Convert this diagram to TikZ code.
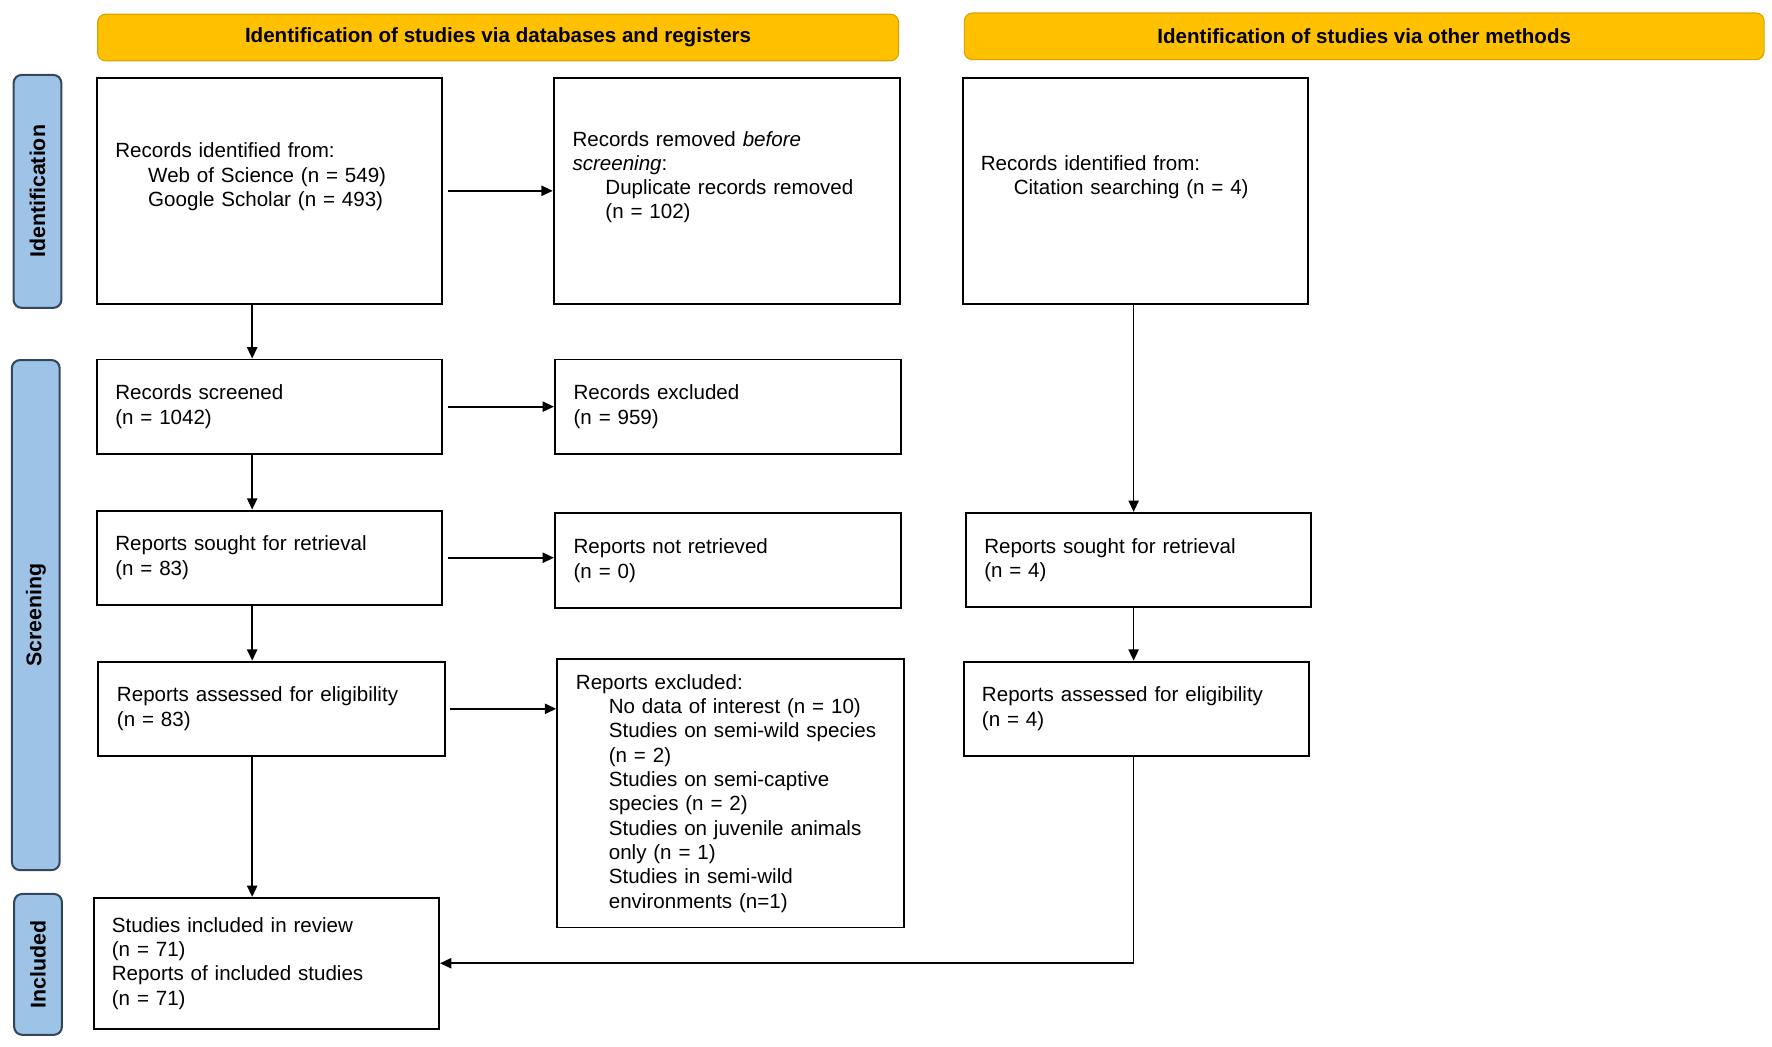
\documentclass[tikz,border=0pt]{standalone}
\usepackage{fontspec}
\setmainfont{Liberation Sans}
\usetikzlibrary{arrows.meta}

\definecolor{bannerfill}{HTML}{FFC000}
\definecolor{bannerline}{HTML}{D9A400}
\definecolor{stagefill}{HTML}{9DC3E6}
\definecolor{stageline}{HTML}{33465C}

\newcommand\flowfont{\fontsize{18.1}{21.4}\selectfont}
\newcommand\ind{\hspace*{29pt}}

\tikzset{
  box/.style={draw, line width=1.7pt, minimum width=304pt, minimum height=83pt,
              inner xsep=15pt, text width=272pt, align=left, font=\flowfont},
  banner/.style={draw=bannerline, fill=bannerfill, rounded corners=7pt, line width=1pt,
                 minimum height=41pt, font=\bfseries\flowfont},
  stage/.style={draw=stageline, fill=stagefill, line width=1.8pt, rounded corners=7pt,
                minimum height=42pt, rotate=90, font=\bfseries\fontsize{18.8}{21}\selectfont},
  flow/.style={-{Triangle[length=10pt,width=9pt]}, line width=1.5pt},
}

\begin{document}
\begin{tikzpicture}[x=1pt, y=-1pt]
\useasboundingbox (0,0) rectangle (1560,921);
% headings
\node[banner, minimum width=705pt] (bandb) at (438.5,33) {Identification of studies via databases and registers};
\node[banner, minimum width=704pt] (banoth) at (1201,32) {Identification of studies via other methods};
% stages
\node[stage, minimum width=205pt] (stid)  at (33,168.5) {Identification};
\node[stage, minimum width=449pt] (stscr) at (31.5,541.5) {Screening};
\node[stage, minimum width=124pt] (stinc) at (33.5,849) {Included};
% databases column
\node[box, minimum height=199pt, text depth=71pt] (idrec) at (237.5,168)
  {Records identified from:\\ \ind Web of Science (n = 549)\\ \ind Google Scholar (n = 493)};
\node[box, minimum width=305pt, minimum height=199pt, text depth=92pt] (removed) at (640,168)
  {Records removed \textit{before}\\ \textit{screening}:\\ \ind Duplicate records removed\\ \ind (n = 102)};
\node[box] (screened) at (237.5,358) {Records screened\\ (n = 1042)};
\node[box, minimum width=305pt] (excl) at (641,358) {Records excluded\\ (n = 959)};
\node[box] (sought) at (237.5,491) {Reports sought for retrieval\\ (n = 83)};
\node[box, minimum width=305pt] (notret) at (641,493.5) {Reports not retrieved\\ (n = 0)};
\node[box, minimum width=305pt] (assessed) at (239,624) {Reports assessed for eligibility\\ (n = 83)};
\node[box, minimum width=305pt, minimum height=236pt] (repexcl) at (643,698.5)
  {Reports excluded:\\ \ind No data of interest (n = 10)\\ \ind Studies on semi-wild species\\ \ind (n = 2)\\
   \ind Studies on semi-captive\\ \ind species (n = 2)\\ \ind Studies on juvenile animals\\ \ind only (n = 1)\\
   \ind Studies in semi-wild\\ \ind environments (n=1)};
\node[box, minimum height=115pt] (included) at (234.5,848)
  {Studies included in review\\ (n = 71)\\ Reports of included studies\\ (n = 71)};
% other methods column
\node[box, minimum height=199pt, text depth=49pt] (citrec) at (999.5,168)
  {Records identified from:\\ \ind Citation searching (n = 4)};
\node[box] (osought) at (1002.5,493) {Reports sought for retrieval\\ (n = 4)};
\node[box] (oassessed) at (1000.5,624) {Reports assessed for eligibility\\ (n = 4)};
% arrows
\coordinate (col) at (222,0);
\coordinate (ocol) at (998,0);
\draw[flow, shorten <=4pt] (idrec.east) -- (idrec.east -| removed.west);
\draw[flow, shorten <=4pt] (screened.east) -- (screened.east -| excl.west);
\draw[flow, shorten <=4pt] (sought.east) -- (sought.east -| notret.west);
\draw[flow, shorten <=4pt] (assessed.east) -- (assessed.east -| repexcl.west);
\draw[flow] (idrec.south -| col) -- (screened.north -| col);
\draw[flow] (screened.south -| col) -- (sought.north -| col);
\draw[flow] (sought.south -| col) -- (assessed.north -| col);
\draw[flow] (assessed.south -| col) -- (included.north -| col);
\draw[flow] (citrec.south -| ocol) -- (osought.north -| ocol);
\draw[flow] (osought.south -| ocol) -- (oassessed.north -| ocol);
\draw[flow] (oassessed.south -| ocol) |- (included.east);
\end{tikzpicture}
\end{document}
